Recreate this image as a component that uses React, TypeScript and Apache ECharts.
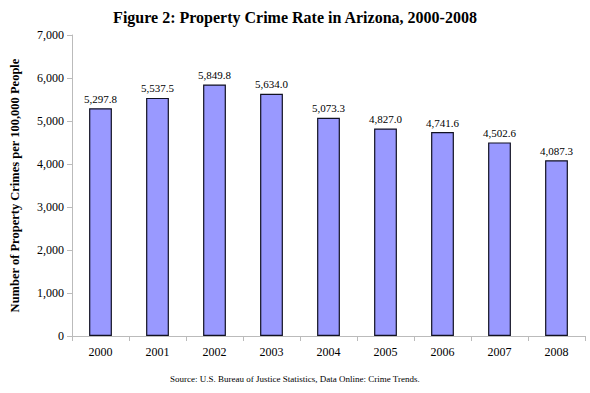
import React, { useEffect, useRef } from "react";
import * as echarts from "echarts";

const years = ["2000", "2001", "2002", "2003", "2004", "2005", "2006", "2007", "2008"];
const rates = [5297.8, 5537.5, 5849.8, 5634.0, 5073.3, 4827.0, 4741.6, 4502.6, 4087.3];

const fmt = (v: number, d: number) =>
  v.toLocaleString("en-US", { minimumFractionDigits: d, maximumFractionDigits: d });

export default function App() {
  const ref = useRef<HTMLDivElement>(null);
  useEffect(() => {
    const chart = echarts.init(ref.current!, null, { renderer: "svg" });
    const font = "'Liberation Serif', 'Times New Roman', serif";
    chart.setOption({
      animation: false,
      backgroundColor: "#ffffff",
      textStyle: { fontFamily: font },
      title: {
        text: "Figure 2: Property Crime Rate in Arizona, 2000-2008",
        left: "center",
        top: 4,
        textStyle: { fontFamily: font, fontSize: 16, fontWeight: "bold", color: "#000" },
      },
      graphic: [
        {
          type: "text",
          left: "center",
          top: 374,
          style: {
            text: "Source: U.S. Bureau of Justice Statistics, Data Online: Crime Trends.",
            font: `9px ${font}`,
            fill: "#000",
          },
        },
      ],
      grid: { left: 67, right: 5, top: 35, bottom: 57 },
      xAxis: {
        type: "category",
        data: years,
        axisLine: { lineStyle: { color: "#bbbbbb" } },
        axisTick: { show: true, inside: false, length: 5, lineStyle: { color: "#bbbbbb" } },
        axisLabel: { fontFamily: font, fontSize: 12, color: "#000", margin: 10 },
      },
      yAxis: {
        type: "value",
        min: 0,
        max: 7000,
        interval: 1000,
        name: "Number of Property Crimes per 100,000 People",
        nameLocation: "middle",
        nameGap: 51,
        nameTextStyle: { fontFamily: font, fontSize: 12.5, fontWeight: "bold", color: "#000" },
        axisLine: { show: true, lineStyle: { color: "#bbbbbb" } },
        axisTick: { show: true, length: 5, lineStyle: { color: "#bbbbbb" } },
        splitLine: { show: false },
        axisLabel: {
          fontFamily: font,
          fontSize: 12,
          color: "#000",
          margin: 8,
          formatter: (v: number) => fmt(v, 0),
        },
      },
      series: [
        {
          type: "bar",
          data: rates,
          barWidth: "40%",
          itemStyle: { color: "#9999ff", borderColor: "#111122", borderWidth: 1.2 },
          label: {
            show: true,
            position: "top",
            distance: 4,
            fontFamily: font,
            fontSize: 11,
            color: "#000",
            formatter: (p: any) => fmt(p.value, 1),
          },
        },
      ],
    });
    return () => chart.dispose();
  }, []);
  return <div ref={ref} style={{ width: 590, height: 393, position: "absolute", left: 0, top: 0 }} />;
}
